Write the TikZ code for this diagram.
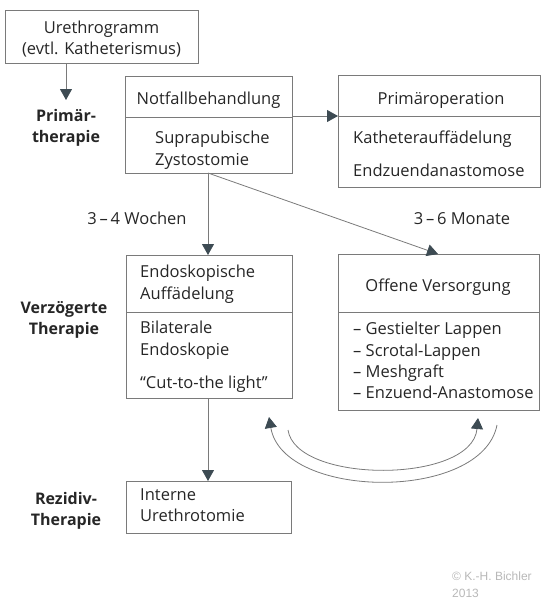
\documentclass[tikz,border=0pt]{standalone}
\usepackage{fontspec}
\setmainfont{Open Sans}
\newfontfamily\cpfont{Liberation Sans}
\usetikzlibrary{arrows.meta}
\definecolor{txtc}{HTML}{262626}
\definecolor{linec}{HTML}{7A7A7A}
\definecolor{tipc}{HTML}{3D4B53}
\definecolor{cpc}{HTML}{B8B8B8}
\begin{document}
\begin{tikzpicture}[x=1pt,y=-1pt,
  boxst/.style={draw=linec, line width=0.9pt, anchor=north west, inner sep=0pt},
  txt/.style={font=\fontsize{16.5}{21}\selectfont, text=txtc, inner sep=0pt, anchor=base},
  txtl/.style={txt, anchor=base west},
  lbl/.style={font=\fontsize{16}{21}\selectfont\bfseries, text=txtc, inner sep=0pt, anchor=base},
  conn/.style={draw=linec, line width=0.8pt},
  arr/.style={conn, -{Triangle[length=11pt,width=12pt,fill=tipc,color=tipc]}},
  cp/.style={font=\cpfont\fontsize{12}{14}\selectfont, text=cpc, inner sep=0pt, anchor=base west}]
\useasboundingbox (0,0) rectangle (550,600);
% boxes
\node[boxst, minimum width=193pt, minimum height=53pt] (ureth) at (5,10) {};
\node[boxst, minimum width=167pt, minimum height=97pt] (notf) at (125,76) {};
\node[boxst, minimum width=202pt, minimum height=112pt] (prim) at (338,75) {};
\node[boxst, minimum width=166pt, minimum height=143pt] (endo) at (126,255) {};
\node[boxst, minimum width=201pt, minimum height=156pt] (offen) at (338,254) {};
\node[boxst, minimum width=165pt, minimum height=52pt] (intern) at (126,481) {};
% dividers
\draw[conn] (notf.west |- 0,117) -- (notf.east |- 0,117);
\draw[conn] (prim.west |- 0,116) -- (prim.east |- 0,116);
\draw[conn] (endo.west |- 0,312) -- (endo.east |- 0,312);
\draw[conn] (offen.west |- 0,312) -- (offen.east |- 0,312);
% texts
\node[txt] (t1) at (101.5,33) {Urethrogramm};
\node[txt] (t2) at (101.5,54) {(evtl. Katheterismus)};
\node[txt] (t3) at (208.5,104) {Notfallbehandlung};
\node[txtl] (t4) at (155,143) {Suprapubische};
\node[txtl] (t5) at (155,165) {Zystostomie};
\node[txt] (t6) at (441,104) {Primäroperation};
\node[txtl] (t7) at (353,143) {Katheterauffädelung};
\node[txtl] (t8) at (353,176) {Endzuendanastomose};
\node[txtl] (t9) at (140,277) {Endoskopische};
\node[txtl] (t10) at (140,299) {Auffädelung};
\node[txtl] (t11) at (140,333) {Bilaterale};
\node[txtl] (t12) at (140,355) {Endoskopie};
\node[txtl] (t13) at (140,388) {“Cut-to-the light”};
\node[txt] (t14) at (438,291) {Offene Versorgung};
\node[txtl] (t15) at (353,334) {– Gestielter Lappen};
\node[txtl] (t16) at (353,356) {– Scrotal-Lappen};
\node[txtl] (t17) at (353,377) {– Meshgraft};
\node[txtl] (t18) at (353,398) {– Enzuend-Anastomose};
\node[txtl] (t19) at (140,500) {Interne};
\node[txtl] (t20) at (140,521) {Urethrotomie};
\node[txt] (w1) at (137,224) {3\,–\,4 Wochen};
\node[txt] (w2) at (462,224) {3\,–\,6 Monate};
% side labels
\node[lbl] (l1) at (66,121) {Primär-};
\node[lbl] (l2) at (66,142) {therapie};
\node[lbl] (l3) at (64,313) {Verzögerte};
\node[lbl] (l4) at (64,334) {Therapie};
\node[lbl] (l5) at (66,504) {Rezidiv-};
\node[lbl] (l6) at (66,525) {Therapie};
\node[cp] (c1) at (452,580) {© K.-H. Bichler};
\node[cp] (c2) at (452,597) {2013};
% connectors
\coordinate (a1) at (66,100);
\draw[arr] (ureth.south -| a1) -- (a1);
\draw[arr] (notf.east |- 0,116) -- (prim.west |- 0,116);
\coordinate (nb) at (208,173);
\draw[arr] (nb) -- (endo.north -| nb);
\draw[arr] (nb) -- (438,254);
\draw[arr] (endo.south -| nb) -- (intern.north -| nb);
\coordinate (ca) at (497,425);
\coordinate (cb) at (269,417);
\coordinate (cc) at (288,430);
\coordinate (cd) at (478,418);
\draw[arr] (ca) .. controls (482,502) and (283,500) .. (cb);
\draw[arr] (cc) .. controls (296,484) and (472,484) .. (cd);
\end{tikzpicture}
\end{document}
